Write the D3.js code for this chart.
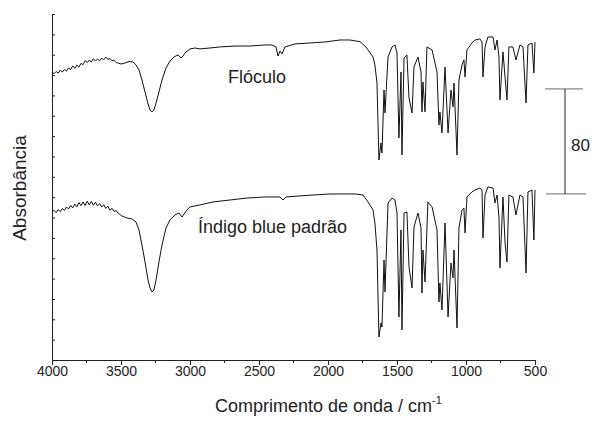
<!DOCTYPE html>
<html>
<head>
<meta charset="utf-8">
<script src="https://cdn.jsdelivr.net/npm/d3@7"></script>
<style>
  body { margin: 0; background: #fff; }
  text { font-family: "Liberation Sans", Arial, sans-serif; fill: #222; }
</style>
</head>
<body>
<div id="container"></div>
<script>
// Chart size
const width = 594;
const height = 421;

// Wavenumbers (cm-1) and absorbance values (stacked, arbitrary units)
const flocWn = [4000, 3985, 3970, 3955, 3940, 3925, 3910, 3895, 3880, 3865, 3850, 3835, 3820, 3805, 3790, 3775, 3760, 3745, 3730, 3715,
  3700, 3685, 3670, 3655, 3640, 3625, 3610, 3595, 3580, 3565, 3550, 3535, 3522,
  3500, 3471, 3442, 3413, 3391, 3370, 3348, 3326, 3304, 3290, 3275, 3261, 3246, 3225, 3203, 3174, 3145, 3116, 3087, 3065,
  3051, 3029, 3000, 2964, 2928, 2855, 2783, 2674, 2565, 2457, 2406, 2377, 2362, 2348, 2333, 2312, 2239, 2130, 2022, 1913,
  1841, 1768, 1725, 1710, 1674, 1660, 1645, 1631, 1616, 1609, 1594, 1587, 1565, 1536, 1515, 1500, 1486, 1471, 1464, 1449,
  1428, 1413, 1391, 1377, 1348, 1326, 1319, 1312, 1297, 1283, 1246, 1210, 1196, 1189, 1174, 1152, 1130, 1109, 1094, 1087,
  1065, 1051, 1029, 1015, 1007, 993, 957, 935, 899, 884, 877, 862, 841, 804, 790, 775, 761, 754, 732, 717,
  703, 689, 660, 638, 609, 587, 565, 551, 522, 508, 500];
const flocAbs = [219.4, 218.2, 219.8, 218.6, 220.9, 219.3, 221.4, 220.1, 222.6, 221.2, 224.1, 222.3, 224.6, 223.1, 226.0, 225.0, 228.1, 226.6, 228.4, 227.1,
  229.5, 227.7, 229.3, 227.9, 229.9, 228.8, 230.8, 229.0, 229.6, 228.0, 228.4, 226.6, 226.3,
  225.5, 226.3, 227.4, 227.0, 224.8, 221.0, 213.3, 204.2, 195.1, 190.5, 189.0, 190.5, 195.8, 204.2, 213.3, 222.5, 227.8, 230.9, 232.4, 230.1,
  231.6, 234.7, 237.0, 237.7, 237.0, 237.7, 238.5, 239.2, 239.2, 240.0, 240.0, 238.5, 231.6, 235.4, 233.1, 238.5, 240.8, 241.5, 242.3, 243.8,
  243.8, 242.5, 238.5, 236.2, 230.9, 224.8, 211.0, 152.4, 165.3, 157.7, 205.7, 188.2, 230.9, 238.5, 240.0, 233.9, 169.2, 219.4, 156.2, 230.1,
  232.4, 199.6, 188.2, 223.2, 230.9, 219.4, 189.0, 211.8, 189.0, 238.5, 236.2, 219.4, 179.0, 189.0, 173.0, 223.2, 173.0, 205.7, 192.8, 211.0,
  156.2, 213.3, 224.8, 228.6, 215.6, 236.2, 241.5, 243.8, 244.6, 242.3, 215.6, 238.5, 246.1, 246.1, 236.2, 243.8, 230.9, 198.1, 234.7, 215.6,
  198.1, 238.5, 238.5, 228.6, 240.0, 238.5, 195.8, 240.0, 241.5, 218.7, 242.3];

const stdWn = [4000, 3985, 3970, 3955, 3940, 3925, 3910, 3895, 3880, 3865, 3850, 3835, 3820, 3805, 3790, 3775, 3760, 3745, 3730, 3715,
  3700, 3685, 3670, 3655, 3640, 3625, 3610, 3595, 3580, 3565, 3550, 3535, 3522,
  3493, 3457, 3420, 3391, 3370, 3348, 3326, 3304, 3290, 3275, 3261, 3246, 3225, 3203, 3174, 3145, 3109, 3080, 3058, 3043,
  3022, 3000, 2928, 2833, 2710, 2587, 2457, 2348, 2326, 2304, 2203, 2109, 1986, 1862, 1804, 1746, 1710, 1674, 1660, 1645,
  1631, 1616, 1609, 1594, 1587, 1565, 1536, 1515, 1500, 1486, 1471, 1464, 1449, 1428, 1413, 1391, 1377, 1348, 1326, 1319,
  1312, 1297, 1276, 1246, 1210, 1196, 1189, 1174, 1152, 1130, 1109, 1094, 1087, 1065, 1051, 1029, 1015, 1007, 993, 957,
  935, 899, 884, 877, 862, 841, 804, 790, 775, 761, 754, 732, 717, 703, 689, 660, 638, 609, 587, 565,
  551, 522, 508, 500];
const stdAbs = [112.8, 114.0, 112.2, 114.6, 113.0, 115.5, 113.9, 116.6, 115.0, 117.8, 115.9, 118.8, 116.8, 119.9, 117.6, 120.4, 117.7, 121.0, 118.2, 120.8,
  117.9, 120.3, 117.4, 119.2, 116.5, 118.3, 115.5, 117.2, 114.1, 115.6, 113.2, 113.9, 112.0,
  109.7, 108.2, 107.4, 105.1, 99.1, 87.6, 74.7, 61.0, 54.9, 51.8, 53.3, 61.0, 74.7, 87.6, 100.6, 106.7, 110.5, 112.0, 108.9, 111.2,
  114.3, 116.6, 118.1, 120.4, 121.9, 123.4, 124.2, 124.2, 121.9, 124.2, 125.0, 125.7, 126.5, 126.5, 126.5, 125.7, 120.4, 114.3, 104.4, 83.8,
  17.5, 28.2, 25.1, 76.2, 51.8, 119.6, 123.4, 121.9, 112.0, 32.8, 99.1, 22.9, 112.0, 112.8, 70.9, 54.9, 101.3, 112.0, 100.6, 51.0,
  83.8, 59.4, 120.4, 116.6, 99.1, 44.2, 58.7, 38.1, 104.4, 32.8, 73.9, 62.5, 83.8, 24.4, 100.6, 114.3, 115.8, 96.8, 124.2, 128.0,
  129.5, 131.0, 129.5, 93.0, 125.7, 131.8, 131.0, 119.6, 125.7, 109.0, 70.1, 124.2, 89.1, 74.7, 125.7, 124.2, 110.5, 125.7, 124.2, 66.3,
  128.0, 129.5, 91.4, 129.5];

// Axis ticks and labels
const xTicks = [4000, 3500, 3000, 2500, 2000, 1500, 1000, 500];
const xMinorTicks = [3750, 3250, 2750, 2250, 1750, 1250, 750];
const yMax = 263.6;
const scaleBarBase = 126.5;
const scaleBarSize = 80;

const margin = { top: 14, right: 59, bottom: 61, left: 52 };

const svg = d3.select('#container')
    .append('svg')
    .attr('width', width)
    .attr('height', height);

const x = d3.scaleLinear()
    .domain([4000, 500])
    .range([margin.left, width - margin.right]);

const y = d3.scaleLinear()
    .domain([0, yMax])
    .range([height - margin.bottom, margin.top]);

const line = d3.line()
    .x(d => x(d[0]))
    .y(d => y(d[1]));

// Spectra
[[flocWn, flocAbs], [stdWn, stdAbs]].forEach(([wn, ab]) => {
  svg.append('path')
      .datum(wn.map((w, i) => [w, ab[i]]))
      .attr('d', line)
      .attr('fill', 'none')
      .attr('stroke', '#111')
      .attr('stroke-width', 1)
      .attr('stroke-linejoin', 'round');
});

// Bottom axis
const xAxis = svg.append('g')
    .attr('transform', `translate(0,${height - margin.bottom})`)
    .call(d3.axisBottom(x).tickValues(xTicks).tickSize(5).tickPadding(1).tickFormat(d3.format('d')));
xAxis.select('.domain').attr('stroke', '#222');
xAxis.selectAll('.tick line').attr('stroke', '#222');
xAxis.selectAll('text').style('font-size', '14px').attr('fill', '#222');

svg.append('g')
    .attr('transform', `translate(0,${height - margin.bottom})`)
    .selectAll('line')
    .data(xMinorTicks)
    .enter().append('line')
    .attr('x1', d => x(d)).attr('x2', d => x(d))
    .attr('y1', 0).attr('y2', 3)
    .attr('stroke', '#222');

// Left axis, ticks inward, no labels
const yAxis = svg.append('g')
    .attr('transform', `translate(${margin.left},0)`)
    .call(d3.axisRight(y)
      .tickValues(d3.range(18).map(i => i * yMax / 17))
      .tickSize(3)
      .tickSizeOuter(0)
      .tickFormat(''));
yAxis.select('.domain').attr('stroke', '#222');
yAxis.selectAll('.tick line').attr('stroke', '#222');

// Axis titles
const xTitle = svg.append('text')
    .attr('x', 215)
    .attr('y', 412)
    .style('font-size', '18px');
xTitle.append('tspan').text('Comprimento de onda / cm');
xTitle.append('tspan').attr('dy', -8).style('font-size', '11px').text('-1');

svg.append('text')
    .attr('transform', 'translate(26,188) rotate(-90)')
    .attr('text-anchor', 'middle')
    .style('font-size', '19px')
    .text('Absorbância');

// Trace labels
svg.append('text')
    .attr('x', x(2725))
    .attr('y', 83)
    .style('font-size', '18px')
    .text('Flóculo');

svg.append('text')
    .attr('x', x(2942))
    .attr('y', 233)
    .style('font-size', '18px')
    .text('Índigo blue padrão');

// Scale bar
const sbTop = y(scaleBarBase + scaleBarSize);
const sbBot = y(scaleBarBase);
svg.append('line')
    .attr('x1', 545).attr('x2', 583)
    .attr('y1', sbTop).attr('y2', sbTop)
    .attr('stroke', '#888').attr('stroke-width', 1.2);
svg.append('line')
    .attr('x1', 546).attr('x2', 586)
    .attr('y1', sbBot).attr('y2', sbBot)
    .attr('stroke', '#888').attr('stroke-width', 1.2);
svg.append('line')
    .attr('x1', 565).attr('x2', 565)
    .attr('y1', sbTop).attr('y2', sbBot)
    .attr('stroke', '#222');
svg.append('text')
    .attr('x', 571)
    .attr('y', 151)
    .style('font-size', '17px')
    .text(String(scaleBarSize));
</script>
</body>
</html>
